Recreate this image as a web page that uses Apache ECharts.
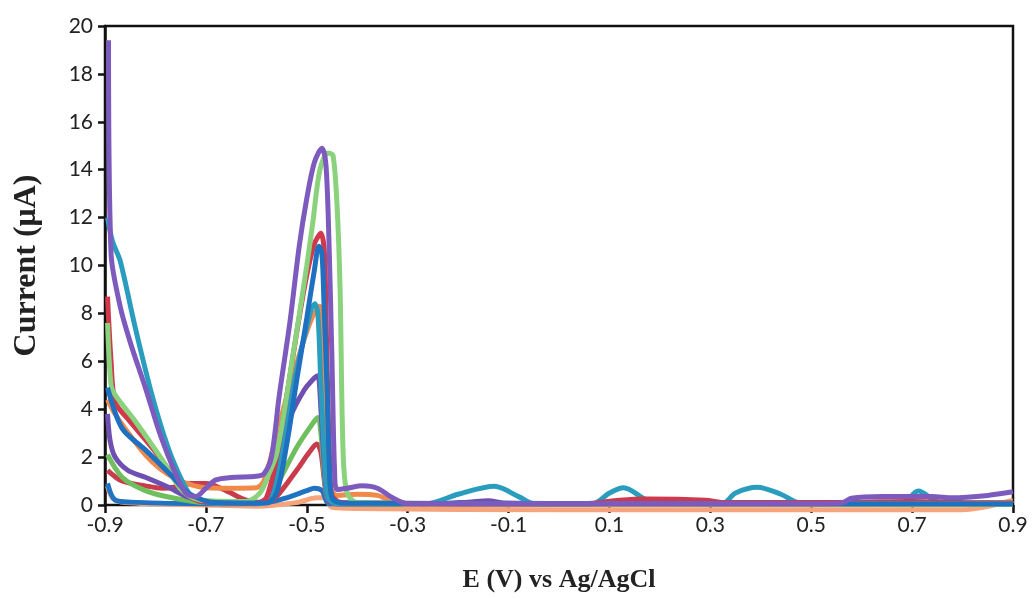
<!DOCTYPE html>
<html>
<head>
<meta charset="utf-8">
<script src="https://cdn.jsdelivr.net/npm/echarts@6/dist/echarts.min.js"></script>
<style>
html,body{margin:0;padding:0;background:#fff;}
#chart{width:1032px;height:599px;}
</style>
</head>
<body>
<div id="chart"></div>
<script>
// Tick labels
const xTicks = [-0.9, -0.7, -0.5, -0.3, -0.1, 0.1, 0.3, 0.5, 0.7, 0.9];
const yTicks = [0, 2, 4, 6, 8, 10, 12, 14, 16, 18, 20];

// Series values: [E (V), current (uA)]
const orangeB = [[-0.895,0.8],[-0.885,0.3],[-0.86,0.1],[-0.7,0.0],[-0.6,-0.05],[-0.52,0.1],[-0.48,0.3],[-0.465,0.3],[-0.45,-0.1],[-0.4,-0.15],[0.0,-0.2],[0.4,-0.2],[0.8,-0.2],[0.84,-0.1],[0.9,0.2]];
const blueB = [[-0.895,0.9],[-0.88,0.2],[-0.85,0.12],[-0.7,0.05],[-0.58,0.1],[-0.54,0.3],[-0.5,0.6],[-0.485,0.7],[-0.47,0.6],[-0.455,0.05],[-0.3,0.05],[0.3,0.05],[0.9,0.05]];
const redB = [[-0.895,1.45],[-0.866,1.0],[-0.82,0.8],[-0.787,0.7],[-0.76,0.75],[-0.73,0.9],[-0.7,0.9],[-0.66,0.6],[-0.62,0.2],[-0.58,0.1],[-0.56,0.35],[-0.52,1.45],[-0.495,2.2],[-0.48,2.55],[-0.472,2.2],[-0.465,1.0],[-0.458,0.2],[-0.44,0.05],[0.0,0.05],[0.9,0.05]];
const greenB = [[-0.895,2.1],[-0.866,1.16],[-0.82,0.6],[-0.767,0.3],[-0.7,0.1],[-0.59,0.08],[-0.573,0.3],[-0.55,1.2],[-0.52,2.4],[-0.495,3.2],[-0.478,3.65],[-0.472,3.0],[-0.465,1.2],[-0.458,0.2],[-0.44,0.05],[0.0,0.02],[0.9,0.02]];
const purpleB = [[-0.895,3.8],[-0.89,2.7],[-0.88,2.0],[-0.855,1.45],[-0.82,1.16],[-0.775,0.75],[-0.735,0.33],[-0.68,0.1],[-0.6,0.08],[-0.579,0.3],[-0.555,1.8],[-0.533,3.65],[-0.505,4.8],[-0.485,5.3],[-0.478,5.4],[-0.472,4.0],[-0.465,1.5],[-0.458,0.2],[-0.44,0.05],[-0.25,0.05],[-0.18,0.12],[-0.14,0.18],[-0.107,0.08],[0.2,0.05],[0.9,0.05]];
const orangeA = [[-0.895,4.4],[-0.88,3.8],[-0.85,2.9],[-0.82,2.1],[-0.79,1.5],[-0.76,1.1],[-0.73,0.85],[-0.7,0.72],[-0.65,0.7],[-0.6,0.72],[-0.585,1.0],[-0.565,2.5],[-0.54,4.5],[-0.51,6.6],[-0.49,7.8],[-0.474,8.3],[-0.468,7.0],[-0.462,3.5],[-0.455,0.8],[-0.44,0.4],[-0.4,0.45],[-0.36,0.4],[-0.33,0.15],[-0.3,0.02],[0.2,0.02],[0.6,0.05],[0.9,0.1]];
const tealA = [[-0.895,12.0],[-0.885,11.0],[-0.87,10.2],[-0.84,7.4],[-0.807,4.6],[-0.775,2.4],[-0.747,1.0],[-0.728,0.35],[-0.7,0.1],[-0.6,0.05],[-0.57,0.3],[-0.55,2.0],[-0.53,4.6],[-0.505,7.0],[-0.484,8.4],[-0.478,8.0],[-0.472,5.0],[-0.465,2.0],[-0.458,0.3],[-0.44,0.05],[-0.264,0.05],[-0.2,0.45],[-0.128,0.78],[-0.08,0.35],[-0.049,0.05],[0.067,0.05],[0.1,0.5],[0.128,0.72],[0.174,0.2],[0.2,0.1],[0.323,0.05],[0.35,0.5],[0.393,0.74],[0.44,0.45],[0.475,0.1],[0.55,0.05],[0.682,0.1],[0.712,0.58],[0.755,0.1],[0.9,0.05]];
const redA = [[-0.895,8.7],[-0.888,6.0],[-0.88,4.3],[-0.855,3.6],[-0.807,2.4],[-0.767,1.3],[-0.74,0.5],[-0.71,0.15],[-0.6,0.08],[-0.58,0.3],[-0.56,2.0],[-0.54,4.5],[-0.52,7.2],[-0.5,9.6],[-0.485,10.9],[-0.472,11.35],[-0.465,10.5],[-0.46,6.0],[-0.455,2.0],[-0.45,0.4],[-0.43,0.1],[0.05,0.05],[0.12,0.2],[0.175,0.25],[0.29,0.2],[0.33,0.1],[0.5,0.1],[0.6,0.12],[0.7,0.15],[0.8,0.1],[0.9,0.08]];
const greenA = [[-0.895,7.6],[-0.888,5.0],[-0.88,4.6],[-0.84,3.5],[-0.787,1.9],[-0.747,0.6],[-0.71,0.2],[-0.62,0.15],[-0.593,0.5],[-0.575,1.3],[-0.559,2.2],[-0.527,6.3],[-0.5,10.0],[-0.488,11.8],[-0.474,14.0],[-0.458,14.7],[-0.448,14.6],[-0.44,12.5],[-0.434,9.0],[-0.428,2.2],[-0.42,0.5],[-0.4,0.1],[0.0,0.05],[0.9,0.05]];
const blueA = [[-0.895,4.9],[-0.866,3.2],[-0.82,2.3],[-0.767,1.2],[-0.735,0.5],[-0.68,0.1],[-0.58,0.08],[-0.56,0.5],[-0.54,2.5],[-0.52,5.2],[-0.5,7.8],[-0.485,9.8],[-0.476,10.8],[-0.47,10.5],[-0.466,8.5],[-0.46,5.0],[-0.455,1.5],[-0.45,0.3],[-0.43,0.08],[0.0,0.05],[0.9,0.05]];
const purpleA = [[-0.893,19.4],[-0.888,10.5],[-0.87,8.3],[-0.85,6.8],[-0.82,4.9],[-0.79,2.9],[-0.76,1.3],[-0.74,0.5],[-0.72,0.35],[-0.7,0.7],[-0.68,1.05],[-0.65,1.15],[-0.6,1.2],[-0.585,1.3],[-0.57,2.0],[-0.555,4.5],[-0.533,7.7],[-0.515,10.8],[-0.5,12.8],[-0.485,14.3],[-0.47,14.9],[-0.462,14.2],[-0.456,11.0],[-0.45,6.0],[-0.445,1.5],[-0.44,0.65],[-0.42,0.7],[-0.39,0.8],[-0.36,0.7],[-0.33,0.3],[-0.3,0.05],[-0.2,0.05],[0.2,0.05],[0.5,0.05],[0.56,0.08],[0.58,0.28],[0.64,0.35],[0.74,0.35],[0.78,0.3],[0.85,0.4],[0.9,0.55]];

const seriesList = [
  ['orangeB', orangeB, '#F5A47C'],
  ['blueB', blueB, '#1F73C2'],
  ['redB', redB, '#C93C4C'],
  ['greenB', greenB, '#6FBF5E'],
  ['purpleB', purpleB, '#6E50B0'],
  ['orangeA', orangeA, '#F08A4B'],
  ['tealA', tealA, '#2A9DBF'],
  ['redA', redA, '#D0394C'],
  ['greenA', greenA, '#8AD27C'],
  ['blueA', blueA, '#1E70C0'],
  ['purpleA', purpleA, '#7D5BBE']
];

const chart = echarts.init(document.getElementById('chart'), null, {renderer: 'canvas'});
const tickFont = {fontFamily: 'Lato', fontSize: 21, color: '#222'};
chart.setOption({
  backgroundColor: '#ffffff',
  animation: false,
  grid: {left: 105, right: 19, top: 26, bottom: 94, show: true, borderColor: '#111', borderWidth: 2.5, backgroundColor: 'transparent'},
  xAxis: {
    type: 'value', min: -0.9, max: 0.9,
    name: 'E (V) vs Ag/AgCl', nameLocation: 'middle', nameGap: 62, nameMoveOverlap: false,
    nameTextStyle: {fontFamily: 'Liberation Serif', fontWeight: 'bold', fontSize: 26, color: '#222'},
    axisLine: {show: true, onZero: false, lineStyle: {color: '#111', width: 2}},
    axisTick: {show: true, inside: false, length: 8, customValues: xTicks, lineStyle: {color: '#111', width: 2.5}},
    axisLabel: Object.assign({customValues: xTicks, margin: 10, formatter: v => Number(v).toFixed(1)}, tickFont),
    splitLine: {show: false}
  },
  yAxis: {
    type: 'value', min: 0, max: 20, interval: 2,
    name: 'Current (μA)', nameLocation: 'middle', nameGap: 62, nameMoveOverlap: false,
    nameTextStyle: {fontFamily: 'Liberation Serif', fontWeight: 'bold', fontSize: 32, color: '#222'},
    axisLine: {show: true, onZero: false, lineStyle: {color: '#111', width: 2.5}},
    axisTick: {show: true, inside: false, length: 7, lineStyle: {color: '#111', width: 2.5}},
    axisLabel: Object.assign({margin: 12, formatter: v => String(v)}, tickFont),
    splitLine: {show: false}
  },
  series: seriesList.map(([name, data, color]) => ({
    name: name, type: 'line', data: data, smooth: 0.3, showSymbol: false, clip: false,
    lineStyle: {color: color, width: 5}, itemStyle: {color: color}
  }))
});
</script>
</body>
</html>
